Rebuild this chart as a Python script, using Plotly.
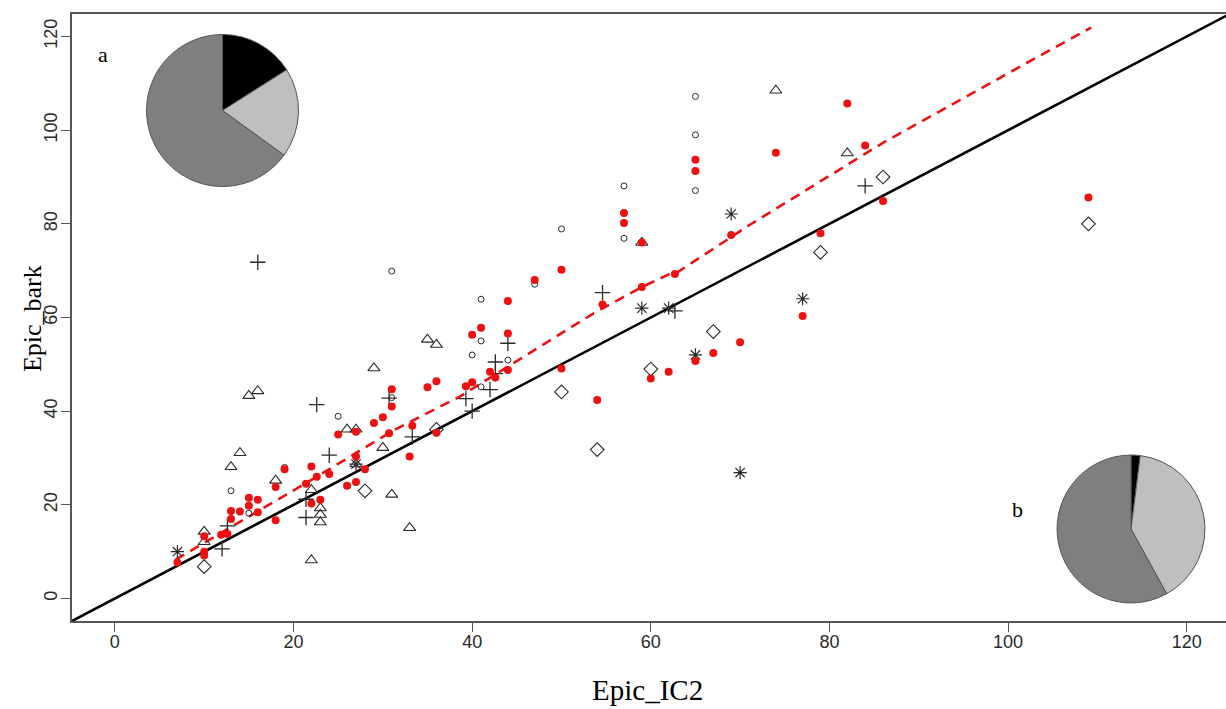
import plotly.graph_objects as go

# ---------------- data ----------------
red_x = [7, 10, 10, 10, 11.9, 12.6, 13, 13, 14, 15, 15, 16, 16, 18, 18, 19,
         21.4, 22, 22, 23, 22.6, 24, 25, 26, 27, 27, 27, 28, 29, 30, 30.7,
         31, 31, 33, 33.3, 35, 36, 36, 39.3, 40, 40, 41, 42, 42.6, 44, 44, 44,
         47, 50, 50, 54, 54.6, 57, 57, 59, 59, 60, 62, 62.7, 65, 65, 65, 67,
         69, 70, 74, 77, 79, 82, 84, 86, 109]
red_y = [7.7, 13.3, 10.0, 9.2, 13.6, 13.8, 18.7, 17.0, 18.6, 21.5, 19.8, 21.1, 18.4, 23.8, 16.7, 27.6,
         24.5, 28.2, 20.3, 21.1, 26.0, 26.6, 35.0, 24.1, 24.9, 35.6, 30.3, 27.6, 37.5, 38.7, 35.3,
         44.7, 41.0, 30.3, 36.9, 45.1, 46.4, 35.4, 45.3, 46.2, 56.3, 57.8, 48.4, 47.2, 48.8, 56.6, 63.5,
         68.0, 70.2, 49.1, 42.4, 62.8, 82.3, 80.2, 76.0, 66.5, 47.0, 48.4, 69.3, 93.7, 91.3, 50.7, 52.4,
         77.6, 54.7, 95.2, 60.3, 78.0, 105.7, 96.7, 84.9, 85.6]

circ_x = [13, 15, 19, 25, 31, 31, 41, 40, 41, 41, 44, 47, 50, 57, 57, 65, 65, 65]
circ_y = [23.0, 18.2, 28.0, 38.9, 69.9, 42.9, 63.9, 52.0, 55.0, 45.2, 50.9, 67.1, 78.9, 88.1, 76.9, 107.2, 99.0, 87.1]

tri_x = [10, 10, 13, 14, 15, 16, 18, 22, 22, 23, 23, 23, 26, 27, 27, 29, 30, 31, 33, 35, 36, 59, 74, 82]
tri_y = [14.3, 12.1, 28.1, 31.1, 43.3, 44.3, 25.2, 23.2, 8.2, 19.3, 17.9, 16.3, 36.1, 36.1, 28.7, 49.2, 32.2, 22.2, 15.1, 55.3, 54.2, 76.0, 108.5, 95.1]

plus_x = [12, 12.6, 16, 21.4, 21.4, 22.6, 24, 30.7, 33.3, 39.3, 40, 42, 42.6, 42.6, 44, 54.6, 62.7, 84]
plus_y = [10.6, 15.5, 71.8, 17.3, 21.2, 41.4, 30.6, 42.8, 34.5, 42.7, 40.0, 44.6, 50.5, 48.0, 54.5, 65.3, 61.4, 88.1]

ast_x = [7, 27, 59, 62, 65, 69, 70, 77]
ast_y = [10.0, 28.7, 62.0, 62.0, 52.0, 82.1, 26.9, 64.0]

dia_x = [10, 28, 36, 50, 54, 60, 67, 79, 86, 109]
dia_y = [6.8, 23.0, 36.1, 44.1, 31.8, 49.0, 57.0, 73.9, 90.0, 80.0]

# fitted (dashed) line vertices
fit_x = [6.8, 22.6, 31.2, 38.6, 53.6, 59.0, 62.0, 62.7, 71.1, 86.0, 102.8, 109.3]
fit_y = [8.3, 26.0, 35.9, 43.1, 60.9, 66.5, 69.2, 69.3, 79.8, 97.3, 115.1, 121.9]

# 1:1 line extent
one_to_one = [-10, 130]

# pies
pie_labels = ["black", "light", "dark"]
pie_a_values = [16, 19, 65]
pie_b_values = [2, 40, 58]
pie_colors = ["#000000", "#BFBFBF", "#7F7F7F"]

x_ticks = [0, 20, 40, 60, 80, 100, 120]
y_ticks = [0, 20, 40, 60, 80, 100, 120]

# ---------------- figure ----------------
fig = go.Figure()

fig.add_trace(go.Scatter(x=one_to_one, y=one_to_one, mode="lines",
                         line=dict(color="black", width=2.6), showlegend=False))
fig.add_trace(go.Scatter(x=fit_x, y=fit_y, mode="lines",
                         line=dict(color="#EE1111", width=2.6, dash="10px,7px"), showlegend=False))

sym_color = "#2a2a2a"
fig.add_trace(go.Scatter(x=circ_x, y=circ_y, mode="markers", showlegend=False,
                         marker=dict(symbol="circle-open", size=6, color=sym_color, line=dict(width=1))))
fig.add_trace(go.Scatter(x=tri_x, y=tri_y, mode="markers", showlegend=False,
                         marker=dict(symbol="triangle-up-open", size=10.5, color=sym_color, line=dict(width=1.1))))
fig.add_trace(go.Scatter(x=dia_x, y=dia_y, mode="markers", showlegend=False,
                         marker=dict(symbol="diamond-open", size=10.5, color=sym_color, line=dict(width=1.1))))
fig.add_trace(go.Scatter(x=plus_x, y=plus_y, mode="markers", showlegend=False,
                         marker=dict(symbol="cross-thin-open", size=11, color=sym_color, line=dict(width=1.3))))
fig.add_trace(go.Scatter(x=ast_x, y=ast_y, mode="markers", showlegend=False,
                         marker=dict(symbol="asterisk-open", size=11, color=sym_color, line=dict(width=1.2))))
fig.add_trace(go.Scatter(x=red_x, y=red_y, mode="markers", showlegend=False,
                         marker=dict(symbol="circle", size=8, color="#EE1111", line=dict(width=0))))

# pies (plot area: x 72..1226, y 14..621 px)
fig.add_trace(go.Pie(labels=pie_labels, values=pie_a_values, sort=False, direction="clockwise",
                     rotation=0, textinfo="none", hoverinfo="skip", showlegend=False,
                     marker=dict(colors=pie_colors, line=dict(color="#555555", width=1)),
                     domain=dict(x=[0.0646, 0.1963], y=[0.7158, 0.9662])))
fig.add_trace(go.Pie(labels=pie_labels, values=pie_b_values, sort=False, direction="clockwise",
                     rotation=0, textinfo="none", hoverinfo="skip", showlegend=False,
                     marker=dict(colors=pie_colors, line=dict(color="#555555", width=1)),
                     domain=dict(x=[0.8536, 0.9818], y=[0.0297, 0.2735])))

tick_font = dict(family="Liberation Sans, Arial, sans-serif", size=18, color="#2a2a2a")
serif = "Liberation Serif, Times New Roman, serif"

fig.update_layout(
    width=1226, height=709,
    margin=dict(l=72, r=0, t=14, b=88, autoexpand=False),
    paper_bgcolor="white", plot_bgcolor="white",
    xaxis=dict(range=[-4.8, 124.4], tickvals=x_ticks, ticks="outside", ticklen=9, tickwidth=1.2,
               tickcolor="#555555", showgrid=False, zeroline=False, showline=True, linecolor="#555555",
               linewidth=1.5, mirror=True, tickfont=tick_font, automargin=False, ticklabelstandoff=-5),
    yaxis=dict(range=[-4.8, 124.8], tickvals=y_ticks, ticks="outside", ticklen=9, tickwidth=1.2,
               tickcolor="#555555", showgrid=False, zeroline=False, showline=True, linecolor="#555555",
               linewidth=1.5, tickangle=-90, tickfont=tick_font, automargin=False, ticklabelstandoff=-3),
    annotations=[
        dict(text="a", x=0.0269, y=0.9325, xref="paper", yref="paper", showarrow=False,
             xanchor="center", yanchor="middle", font=dict(family=serif, size=22, color="black")),
        dict(text="b", x=0.819, y=0.183, xref="paper", yref="paper", showarrow=False,
             xanchor="center", yanchor="middle", font=dict(family=serif, size=22, color="black")),
        dict(text="Epic_bark", x=-0.0347, y=0.499, xref="paper", yref="paper", showarrow=False,
             xanchor="center", yanchor="middle",
             textangle=-90, font=dict(family=serif, size=26, color="black")),
        dict(text="Epic_IC2", x=0.499, y=-0.1137, xref="paper", yref="paper", showarrow=False,
             xanchor="center", yanchor="middle", font=dict(family=serif, size=29, color="black")),
    ],
)

fig.write_html("out.html", config={"displayModeBar": False},
               post_script="document.body.style.margin='0';document.body.style.overflow='hidden';")
